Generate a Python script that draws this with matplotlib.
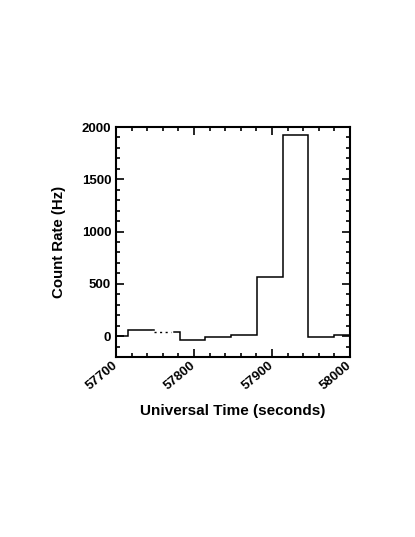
import numpy as np
import matplotlib
matplotlib.use("Agg")
import matplotlib.pyplot as plt
from matplotlib.ticker import MultipleLocator

# light curve bins (seconds UT, Hz)
bin_edges = [57682.5, 57715.5, 57748.5, 57781.5, 57814.5, 57847.5,
             57880.5, 57913.5, 57946.5, 57979.5, 58012.5]
count_rate = [3, 55, 36, -38, -4, 14, 564, 1926, -10, 13]

# stretch of the third bin drawn dotted (data gap)
gap_start = 57748.5
gap_end = 57770.0
gap_rate = 36

plt.rcParams['font.family'] = ['Liberation Sans', 'DejaVu Sans']
plt.rcParams['font.weight'] = 'bold'

fig = plt.figure(figsize=(4.15, 5.37), dpi=100)
ax = fig.add_axes([0.2795, 0.3352, 0.5639, 0.4283])

ax.stairs(count_rate, bin_edges, baseline=None, color='black', lw=1.1)
ax.plot([gap_start, gap_end], [gap_rate, gap_rate], color='white', lw=2.5)
ax.plot([gap_start, gap_end], [gap_rate, gap_rate], color='black', lw=1.0,
        ls=(0, (1.5, 2.5)))

ax.set_xlim(57700, 58000)
ax.set_ylim(-200, 2000)

ax.xaxis.set_major_locator(MultipleLocator(100))
ax.xaxis.set_minor_locator(MultipleLocator(20))
ax.yaxis.set_major_locator(MultipleLocator(500))
ax.yaxis.set_minor_locator(MultipleLocator(100))

ax.tick_params(which='both', direction='in', top=True, right=True,
               width=1.2, labelsize=9.5)
ax.tick_params(which='major', length=6)
ax.tick_params(which='minor', length=3)
ax.tick_params(axis='x', pad=5)
for s in ax.spines.values():
    s.set_linewidth(1.5)

for lab in ax.get_xticklabels():
    lab.set_rotation(40)
    lab.set_ha('right')
    lab.set_va('center')
    lab.set_rotation_mode('anchor')
    lab.set_fontweight('bold')
for lab in ax.get_yticklabels():
    lab.set_fontweight('bold')

ax.set_xlabel("Universal Time (seconds)", fontsize=11, fontweight='bold',
              labelpad=8)
ax.set_ylabel("Count Rate (Hz)", fontsize=10.8, fontweight='bold',
              labelpad=11)

fig.savefig("out.png", dpi=100)
